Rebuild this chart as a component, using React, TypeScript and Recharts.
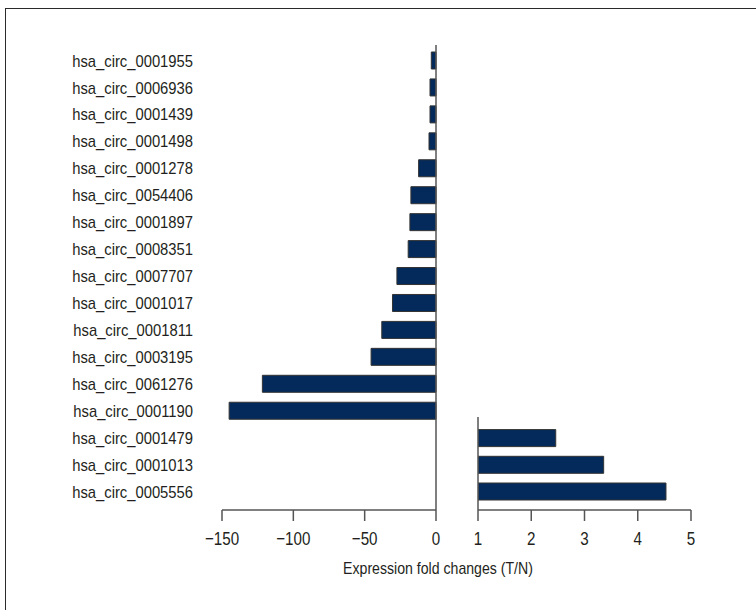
import { BarChart, Bar, XAxis, YAxis, ReferenceLine } from "recharts";

// down-regulated circRNAs (left panel, fold change shown as negative)
const downNames = [
  "hsa_circ_0001955",
  "hsa_circ_0006936",
  "hsa_circ_0001439",
  "hsa_circ_0001498",
  "hsa_circ_0001278",
  "hsa_circ_0054406",
  "hsa_circ_0001897",
  "hsa_circ_0008351",
  "hsa_circ_0007707",
  "hsa_circ_0001017",
  "hsa_circ_0001811",
  "hsa_circ_0003195",
  "hsa_circ_0061276",
  "hsa_circ_0001190",
];
const downValues = [-3.3, -4.2, -4.2, -4.9, -12.2, -17.6, -18.3, -19.5, -27.4, -30.5, -38, -45.5, -121.7, -145];

// up-regulated circRNAs (right panel)
const upNames = ["hsa_circ_0001479", "hsa_circ_0001013", "hsa_circ_0005556"];
const upValues = [2.46, 3.36, 4.53];

const leftTicks = [-150, -100, -50, 0];
const rightTicks = [1, 2, 3, 4, 5];

const leftData = [
  ...downNames.map((name, i) => ({ name, value: downValues[i] })),
  ...upNames.map((name) => ({ name, value: null })),
];
const rightData = upNames.map((name, i) => ({ name, value: upValues[i] }));

const FONT = "'Liberation Sans', Arial, sans-serif";
const TEXT = "#231f20";
const AXIS = "#555";
const BAR_FILL = "#032a5a";
const BAR_STROKE = "#333";

const fmt = (v: number) => String(v).replace("-", "\u2212");

// no condensed font installed, so squeeze Liberation Sans sideways
function CatTick(props: any) {
  const { x, y, payload } = props;
  return (
    <g transform={`translate(${x},${y})`}>
      <text transform="scale(0.87,1)" textAnchor="end" dy="0.36em" fill={TEXT} fontSize={17} fontFamily={FONT}>
        {payload.value}
      </text>
    </g>
  );
}

function NumTick(props: any) {
  const { x, y, payload } = props;
  return (
    <g transform={`translate(${x},${y})`}>
      <text transform="scale(0.82,1)" textAnchor="middle" dy="0.71em" fill={TEXT} fontSize={18.5} fontFamily={FONT}>
        {fmt(payload.value)}
      </text>
    </g>
  );
}

export default function App() {
  return (
    <div style={{ position: "absolute", left: 0, top: 0, width: 756, height: 610, overflow: "hidden", background: "#fff", fontFamily: FONT }}>
      <div style={{ position: "absolute", left: 5, top: 8, width: 800, height: 700, border: "1.5px solid #2b2b2b" }} />

      <div style={{ position: "absolute", left: 0, top: 0 }}>
        <BarChart
          width={460}
          height={560}
          data={leftData}
          layout="vertical"
          barSize={17}
          margin={{ top: 45, right: 24, bottom: 20, left: 0 }}
        >
          <XAxis
            type="number"
            domain={[-150, 0]}
            ticks={leftTicks}
            height={30}
            tickSize={11}
            tickMargin={11}
            stroke={AXIS}
            strokeWidth={1.5}
            tick={<NumTick />}
          />
          <YAxis
            type="category"
            dataKey="name"
            width={222}
            axisLine={false}
            tickLine={false}
            tickSize={0}
            tickMargin={29}
            interval={0}
            padding={{ top: 2, bottom: 5 }}
            tick={<CatTick />}
          />
          <Bar dataKey="value" fill={BAR_FILL} stroke={BAR_STROKE} strokeWidth={1} isAnimationActive={false} />
          <ReferenceLine x={0} stroke={AXIS} strokeWidth={1.5} />
        </BarChart>
      </div>

      <div style={{ position: "absolute", left: 470, top: 380 }}>
        <BarChart
          width={240}
          height={180}
          data={rightData}
          layout="vertical"
          barSize={17}
          margin={{ top: 37, right: 19, bottom: 20, left: 8 }}
        >
          <XAxis
            type="number"
            domain={[1, 5]}
            ticks={rightTicks}
            allowDataOverflow
            height={30}
            tickSize={11}
            tickMargin={11}
            stroke={AXIS}
            strokeWidth={1.5}
            tick={<NumTick />}
          />
          <YAxis type="category" dataKey="name" hide padding={{ top: 7.6, bottom: 5.3 }} />
          <Bar dataKey="value" fill={BAR_FILL} stroke={BAR_STROKE} strokeWidth={1} isAnimationActive={false} />
          <ReferenceLine x={1} stroke={AXIS} strokeWidth={1.5} />
        </BarChart>
      </div>

      <div
        style={{
          position: "absolute",
          left: 288,
          top: 559,
          width: 300,
          textAlign: "center",
          fontSize: 17,
          color: TEXT,
          whiteSpace: "nowrap",
          transform: "scaleX(0.83)",
        }}
      >
        Expression fold changes (T/N)
      </div>
    </div>
  );
}
